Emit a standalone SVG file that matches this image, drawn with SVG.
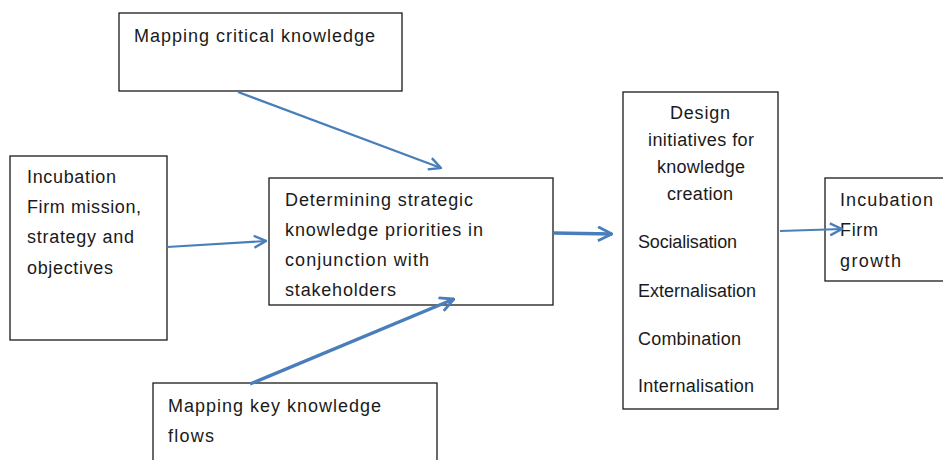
<svg xmlns="http://www.w3.org/2000/svg" width="943" height="460" viewBox="0 0 943 460">
  <style>
    .box { fill: #ffffff; stroke: #1a1a1a; stroke-width: 1.3; }
    .lbl { font-family: "Liberation Sans", "DejaVu Sans", sans-serif; font-size: 18px; fill: #1a1a1a; }
    .mid { text-anchor: middle; }
    .link { fill: none; stroke: #4a7ebb; stroke-width: 2.2; }
    .thick { stroke-width: 3.4; }
  </style>
  <defs>
    <marker id="chev" viewBox="0 0 14 14" refX="13" refY="7" markerWidth="14" markerHeight="14" markerUnits="userSpaceOnUse" orient="auto">
      <path d="M1,1 L13,7 L1,13" fill="none" stroke="#4a7ebb" stroke-width="2.4"/>
    </marker>
    <marker id="chevBig" viewBox="0 0 16 16" refX="15" refY="8" markerWidth="16" markerHeight="16" markerUnits="userSpaceOnUse" orient="auto">
      <path d="M1,1 L15,8 L1,15" fill="none" stroke="#4a7ebb" stroke-width="2.8"/>
    </marker>
  </defs>

  <g id="mapping-critical">
    <rect class="box" x="119" y="13" width="283" height="78"/>
    <text class="lbl" x="134" y="42" textLength="241">Mapping critical knowledge</text>
  </g>

  <g id="incubation-mission">
    <rect class="box" x="10" y="156" width="157" height="184"/>
    <text class="lbl" x="27" y="183" textLength="89">Incubation</text>
    <text class="lbl" x="27" y="213" textLength="114">Firm mission,</text>
    <text class="lbl" x="27" y="243" textLength="107">strategy and</text>
    <text class="lbl" x="27" y="274" textLength="86">objectives</text>
  </g>

  <g id="strategic-priorities">
    <rect class="box" x="269" y="178" width="284" height="127"/>
    <text class="lbl" x="285" y="206" textLength="188">Determining strategic</text>
    <text class="lbl" x="285" y="236" textLength="198">knowledge priorities in</text>
    <text class="lbl" x="285" y="266" textLength="144">conjunction with</text>
    <text class="lbl" x="285" y="296" textLength="111">stakeholders</text>
  </g>

  <g id="mapping-flows">
    <rect class="box" x="153" y="383" width="284" height="90"/>
    <text class="lbl" x="168" y="412" textLength="213">Mapping key knowledge</text>
    <text class="lbl" x="168" y="442" textLength="46">flows</text>
  </g>

  <g id="design-initiatives">
    <rect class="box" x="623" y="92" width="155" height="317"/>
    <text class="lbl mid" x="700" y="119" textLength="60">Design</text>
    <text class="lbl mid" x="701" y="146" textLength="106">initiatives for</text>
    <text class="lbl mid" x="701" y="173" textLength="88">knowledge</text>
    <text class="lbl mid" x="700" y="200" textLength="66">creation</text>
    <text class="lbl" x="638" y="248" textLength="99">Socialisation</text>
    <text class="lbl" x="638" y="297" textLength="118">Externalisation</text>
    <text class="lbl" x="638" y="345" textLength="103">Combination</text>
    <text class="lbl" x="638" y="392" textLength="116">Internalisation</text>
  </g>

  <g id="incubation-growth">
    <rect class="box" x="825" y="178" width="130" height="103"/>
    <text class="lbl" x="840" y="206" textLength="93">Incubation</text>
    <text class="lbl" x="840" y="236" textLength="38">Firm</text>
    <text class="lbl" x="840" y="267" textLength="61">growth</text>
  </g>

  <g id="connectors">
    <path class="link" d="M238,92 L441,168" marker-end="url(#chev)"/>
    <path class="link" d="M167,247 L266,241" marker-end="url(#chev)"/>
    <path class="link thick" d="M250,384 L454,299" marker-end="url(#chevBig)"/>
    <path class="link thick" d="M553,233 L612,234" marker-end="url(#chevBig)"/>
    <path class="link" d="M780,231 L842,229" marker-end="url(#chev)"/>
  </g>
</svg>
